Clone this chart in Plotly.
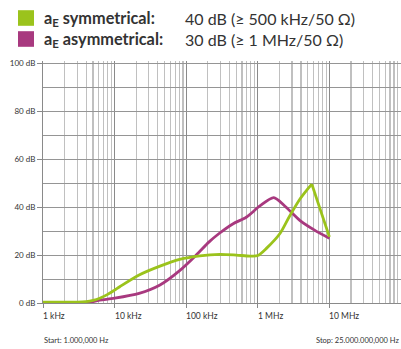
import math
import plotly.graph_objects as go

GREEN = "#9BC31C"
MAGENTA = "#A8397F"
TEXT = "#333333"
FONT = "Lato"

# Symmetrical attenuation: smooth rise up to the resonance peak
sym_rise_hz = [1e3, 2e3, 3e3, 4e3, 5e3, 6.2e3, 8e3, 1e4, 1.18e4, 2.2e4, 4.3e4,
               8.1e4, 1.55e5, 2.95e5, 5e5, 7.8e5, 1e6, 1.32e6, 2.04e6, 2.75e6,
               3.8e6, 4.8e6, 5.68e6]
sym_rise_db = [0.4, 0.4, 0.4, 0.6, 1.1, 2.0, 3.6, 5.4, 6.8, 11.7, 15.4,
               18.2, 19.7, 20.3, 20.0, 19.6, 19.8, 22.8, 29.0, 36.0,
               43.0, 47.0, 49.6]
# Symmetrical attenuation: steep fall after the peak
sym_fall_hz = [5.68e6, 1e7]
sym_fall_db = [49.6, 27.6]

# Asymmetrical attenuation
asym_hz = [1e3, 3e3, 4e3, 5e3, 6.2e3, 1e4, 2.2e4, 4.3e4, 8.1e4, 1.38e5,
           2.09e5, 2.88e5, 4.47e5, 6.9e5, 1.07e6, 1.67e6, 2.38e6, 3.86e6,
           6.2e6, 1e7]
asym_db = [0.2, 0.2, 0.3, 0.6, 1.2, 2.0, 4.0, 7.5, 13.5, 20.0,
           25.5, 29.0, 33.0, 35.8, 40.5, 44.0, 40.5, 34.5,
           30.4, 27.0]

x_tick_hz = [1e3, 1e4, 1e5, 1e6, 1e7]
x_tick_text = ["1 kHz", "10 kHz", "100 kHz", "1 MHz", "10 MHz"]
y_tick_db = [0, 20, 40, 60, 80, 100]
y_tick_text = ["0 dB", "20 dB", "40 dB", "60 dB", "80 dB", "100 dB"]

legend_names = ["a<sub>E</sub> symmetrical:", "a<sub>E</sub> asymmetrical:"]
legend_values = ["40 dB (≥ 500 kHz/50 Ω)", "30 dB (≥ 1 MHz/50 Ω)"]
legend_colors = [GREEN, MAGENTA]
start_text = "Start: 1.000,000 Hz"
stop_text = "Stop: 25.000.000,000 Hz"

minor_hz = [k * 10 ** d for d in range(3, 8) for k in range(2, 10)]

W, H = 401, 349
plot_left, plot_right = 43, 401
plot_top, plot_bottom = 61, 303


def px(x_px):
    return (x_px - plot_left) / (plot_right - plot_left)


def py(y_px):
    return (plot_bottom - y_px) / (plot_bottom - plot_top)


fig = go.Figure()
fig.add_trace(go.Scatter(x=asym_hz, y=asym_db, mode="lines",
                         line=dict(color=MAGENTA, width=2.8, shape="spline", smoothing=0.8),
                         hoverinfo="skip"))
fig.add_trace(go.Scatter(x=sym_rise_hz, y=sym_rise_db, mode="lines",
                         line=dict(color=GREEN, width=2.8, shape="spline", smoothing=0.8),
                         hoverinfo="skip"))
fig.add_trace(go.Scatter(x=sym_fall_hz, y=sym_fall_db, mode="lines",
                         line=dict(color=GREEN, width=2.8),
                         hoverinfo="skip"))

fig.update_xaxes(
    type="log", range=[3, 8],
    tickvals=x_tick_hz, showticklabels=False,
    ticks="outside", ticklen=4, tickcolor="#888888",
    showgrid=True, gridcolor="#8a8a8a", gridwidth=1,
    minor=dict(tickvals=minor_hz, showgrid=True, gridcolor="#c0c0c0", gridwidth=1.2, ticks=""),
    showline=True, linecolor="#8a8a8a", linewidth=1,
    zeroline=False, fixedrange=True,
)
fig.update_yaxes(
    range=[0, 101],
    tickvals=y_tick_db, ticktext=y_tick_text,
    ticks="outside", ticklen=5, tickcolor="#888888",
    tickfont=dict(family=FONT, size=8, color=TEXT),
    showgrid=True, gridcolor="#959595", gridwidth=1,
    minor=dict(tickvals=[10, 30, 50, 70, 90], showgrid=True, gridcolor="#959595", ticks=""),
    showline=True, linecolor="#8a8a8a", linewidth=1,
    zeroline=False, fixedrange=True,
)

annotations = []
# x tick labels, left-aligned at each tick
for hz, txt in zip(x_tick_hz, x_tick_text):
    annotations.append(dict(x=math.log10(hz), y=0, xref="x", yref="paper",
                            text=txt, showarrow=False, xanchor="left", yanchor="top",
                            xshift=-2, yshift=-6,
                            font=dict(family=FONT, size=8.5, color=TEXT)))
annotations.append(dict(x=0, y=0, xref="paper", yref="paper", text=start_text,
                        showarrow=False, xanchor="left", yanchor="top", yshift=-31, xshift=-1,
                        font=dict(family=FONT, size=7.5, color=TEXT)))
annotations.append(dict(x=1, y=0, xref="paper", yref="paper", text=stop_text,
                        showarrow=False, xanchor="right", yanchor="top", yshift=-31,
                        font=dict(family=FONT, size=7.5, color=TEXT)))

# legend block at the top: colour swatch, bold series name, rating
shapes = []
for i, (name, val, col) in enumerate(zip(legend_names, legend_values, legend_colors)):
    yc = 18.0 + i * 21.0
    shapes.append(dict(type="rect", xref="paper", yref="paper",
                       x0=px(18), x1=px(34), y0=py(yc - 7.8), y1=py(yc + 7.8),
                       fillcolor=col, line=dict(width=0)))
    annotations.append(dict(x=px(42), y=py(yc), xref="paper", yref="paper",
                            text=f"<b>{name}</b>", showarrow=False,
                            xanchor="left", yanchor="middle",
                            font=dict(family=FONT, size=16.3, color=TEXT)))
    annotations.append(dict(x=px(183), y=py(yc), xref="paper", yref="paper",
                            text=val, showarrow=False,
                            xanchor="left", yanchor="middle",
                            font=dict(family=FONT, size=16, color=TEXT)))

fig.update_layout(
    width=W, height=H,
    margin=dict(l=plot_left, r=W - plot_right, t=plot_top, b=H - plot_bottom, pad=0),
    paper_bgcolor="white", plot_bgcolor="white",
    showlegend=False,
    shapes=shapes,
    annotations=annotations,
)

fig.write_html("out.html", config={"displayModeBar": False, "staticPlot": True})
